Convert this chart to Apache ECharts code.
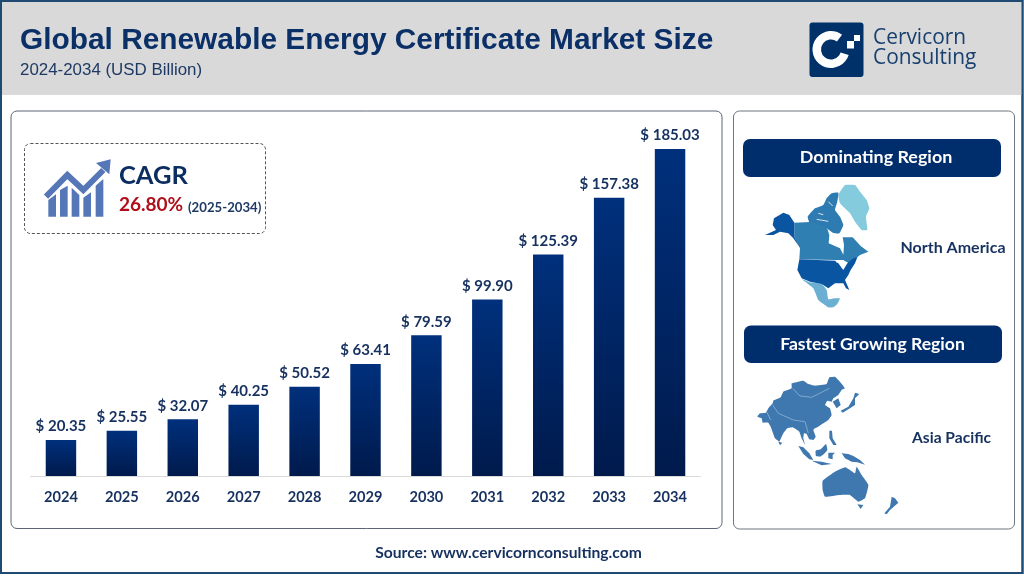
<!DOCTYPE html>
<html><head><meta charset="utf-8">
<style>html,body{margin:0;padding:0;background:#fff}#c{width:1024px;height:576px}</style>
<script src="https://cdn.jsdelivr.net/npm/echarts@6/dist/echarts.min.js"></script>
</head><body><div id="c"></div>
<script>
const categories = ['2024','2025','2026','2027','2028','2029','2030','2031','2032','2033','2034'];
const marketSize = [20.35,25.55,32.07,40.25,50.52,63.41,79.59,99.90,125.39,157.38,185.03];
const titleText = 'Global Renewable Energy Certificate Market Size';
const subtitleText = '2024-2034 (USD Billion)';
const sourceText = 'Source: www.cervicornconsulting.com';

const NAVY='#002d6c', TEXT='#16315f';
const chart = echarts.init(document.getElementById('c'),null,{renderer:'canvas'});
const g = [];
const rect=(x,y,w,h,style,r,z)=>g.push({type:'rect',shape:{x,y,width:w,height:h,r:r||0},style,z:z||0,silent:true});
const txt=(text,x,y,font,fill,align)=>g.push({type:'text',z:5,silent:true,style:{text,x,y,font,fill,align:align||'left',textAlign:align||'left',verticalAlign:'middle',textVerticalAlign:'middle'}});
// traced illustration outlines: coordinates are in a 3x trace space with an origin
const poly=(ox,oy,pts,fill,z,smooth)=>g.push({type:'polygon',z:z||1,silent:true,shape:{smooth:smooth||0,points:pts.map(p=>[ox+p[0]/3,oy+p[1]/3])},style:{fill}});
const line=(ox,oy,pts,stroke,w,z)=>g.push({type:'polyline',z:z||2,silent:true,shape:{points:pts.map(p=>[ox+p[0]/3,oy+p[1]/3])},style:{stroke,lineWidth:w,fill:null}});

// page frame + header
rect(1,1,1021.5,572,{fill:'#fff',stroke:'#1f4a72',lineWidth:2});
rect(2,2,1020,93,{fill:'#d9d9d9'});
rect(1,1,1021.5,572,{fill:null,stroke:'#1f4a72',lineWidth:2},0,1);
txt(titleText,20,41,'bold 29.85px "Liberation Sans"','#0b3068');
txt(subtitleText,20,70,'16.9px "Liberation Sans"','#1e3a64');

// logo
rect(809.5,22.5,54,54.5,{fill:'#003169'},3,1);
g.push({type:'sector',z:2,silent:true,shape:{cx:831,cy:49.5,r:18.5,r0:10,startAngle:0.3,endAngle:5.35,clockwise:true},style:{fill:'#fff'}});
rect(847,41,7,7.5,{fill:'#fff'},0,2); rect(854,35,6,6,{fill:'#fff'},0,2);
txt('Cervicorn',873,38,'500 20.9px "Open Sans"','#17406f');
txt('Consulting',873,58,'500 20.9px "Open Sans"','#17406f');

// panels
rect(11,111,711,417.5,{fill:'#fff',stroke:'#5a6675',lineWidth:1},6);
rect(733.5,111,281,418,{fill:'#fff',stroke:'#6f7780',lineWidth:1},6);

// CAGR box
rect(24.5,143.5,241,90,{fill:'#fff',stroke:'#555',lineWidth:1,lineDash:[3,2]},6,1);
[[[25,135],[48,118],[48,185],[25,185]],[[60,105],[83,92],[83,185],[60,185]],[[95,98],[118,120],[118,185],[95,185]],[[130,128],[153,112],[153,185],[130,185]],[[167,92],[190,72],[190,185],[167,185]]].forEach(b=>poly(40,155,b,'#5577b8',2));
line(40,155,[[18,125],[82,60],[130,105],[190,45]],'#5577b8',6,2);
poly(40,155,[[168,24],[212,13],[208,58]],'#5577b8',2);
txt('CAGR',119,176,'bold 25.5px Lato','#0b2d62');
txt('26.80%',119,205,'bold 19px Lato','#b0101a');
txt('(2025-2034)',188,208,'bold 13.2px Lato','#1e3a64');

// region buttons
rect(743,139,258,38,{fill:NAVY},7,1);
txt('Dominating Region',876,157.5,'bold 17.9px Lato','#fff','center');
rect(744,325.5,258,37.5,{fill:NAVY},7,1);
txt('Fastest Growing Region',872.5,344,'bold 17.6px Lato','#fff','center');
txt('North America',953,247.5,'bold 16px Lato',TEXT,'center');
txt('Asia Pacific',951.5,438,'bold 15.6px Lato',TEXT,'center');
txt(sourceText,508.5,552.5,'bold 15.65px Lato',TEXT,'center');

// North America illustration
const NX=760,NY=180,S=0.12;
poly(NX,NY,[[255,15],[285,15],[300,35],[320,60],[328,85],[318,110],[322,150],[305,150],[285,125],[270,100],[240,70],[235,45]],'#85cbde',1,S);
poly(NX,NY,[[215,40],[235,38],[232,65],[225,90],[240,110],[250,135],[238,160],[218,158],[200,145],[150,130],[143,110],[165,85],[190,75],[200,55]],'#2d7bb0',1,S);
poly(NX,NY,[[103,128],[150,126],[200,140],[208,165],[206,190],[240,205],[250,224],[252,195],[248,172],[278,172],[302,198],[325,215],[300,225],[282,240],[265,250],[250,240],[225,240],[118,238],[120,205],[103,170]],'#2f7fb3',1);
poly(NX,NY,[[42,115],[70,98],[88,105],[103,128],[103,170],[120,203],[100,175],[85,160],[60,155],[40,165],[15,165],[48,150],[38,135]],'#0a55a2',2);
poly(NX,NY,[[118,238],[225,242],[235,250],[250,270],[262,250],[280,235],[292,232],[285,250],[272,270],[265,285],[255,300],[268,330],[258,325],[250,310],[225,310],[205,325],[185,312],[150,305],[125,295],[112,270]],'#0a55a2',2);
poly(NX,NY,[[125,297],[150,307],[185,312],[200,330],[205,358],[225,355],[240,355],[232,372],[220,382],[205,382],[175,360],[160,325]],'#6bb0d3',1,S);
line(NX,NY,[[175,100],[190,104]],'#fff',0.8,3);
line(NX,NY,[[170,118],[205,124]],'#fff',0.8,3);
line(NX,NY,[[205,65],[218,78]],'#fff',0.8,3);
line(NX,NY,[[228,245],[262,248]],'#fff',1.2,3);
line(NX,NY,[[240,250],[248,265]],'#fff',1.2,3);

// Asia Pacific illustration
const AX=750,AY=370,AP='#3f78ae';
poly(AX,AY,[[22,140],[30,130],[48,128],[55,115],[68,100],[70,92],[92,82],[100,65],[125,55],[125,40],[160,32],[175,42],[195,47],[230,42],[238,22],[255,20],[270,35],[285,55],[275,60],[265,75],[250,85],[245,95],[232,92],[225,105],[240,115],[245,135],[235,150],[220,160],[205,170],[195,175],[190,180],[197,200],[190,210],[178,208],[170,192],[162,190],[160,205],[165,225],[155,205],[148,185],[128,172],[112,175],[100,190],[88,215],[75,205],[62,170],[55,158],[38,158],[35,145]],AP,1,0.08);
poly(AX,AY,[[248,95],[265,85],[272,105],[260,115]],AP);
poly(AX,AY,[[272,122],[295,110],[310,85],[315,68],[328,72],[315,85],[315,105],[295,118],[278,128]],AP);
poly(AX,AY,[[145,228],[160,232],[178,250],[190,270],[178,268],[160,252]],AP);
poly(AX,AY,[[185,272],[215,275],[245,282],[215,286]],AP);
poly(AX,AY,[[197,242],[212,238],[228,222],[232,240],[222,252],[210,260],[198,258]],AP,1,S);
poly(AX,AY,[[235,248],[255,248],[248,255],[248,268],[235,265]],AP);
poly(AX,AY,[[275,250],[295,252],[310,258],[330,270],[345,284],[322,277],[305,275],[285,265]],AP);
poly(AX,AY,[[238,182],[246,182],[248,205],[260,225],[250,225],[238,205]],AP);
poly(AX,AY,[[218,332],[255,305],[285,292],[300,300],[315,310],[320,290],[335,315],[355,345],[345,385],[325,395],[300,375],[270,375],[225,380],[218,360]],AP,1,S);
poly(AX,AY,[[322,403],[340,405],[332,417]],AP);
poly(AX,AY,[[403,430],[420,410],[425,380],[435,385],[445,398],[420,420],[410,433]],AP);
poly(AX,AY,[[85,215],[97,218],[90,226]],AP);
const B='#8fb4d6';
line(AX,AY,[[128,55],[150,78],[185,82],[238,55]],B,0.8);
line(AX,AY,[[68,105],[85,130],[130,150],[165,155]],B,0.8);
line(AX,AY,[[50,125],[62,150]],B,0.8);
line(AX,AY,[[165,155],[175,190]],B,0.8);

chart.setOption({
  animation:false,
  backgroundColor:'#fff',
  graphic:{elements:g},
  grid:{left:30.5,right:323.5,top:149,bottom:100,containLabel:false},
  xAxis:{type:'category',data:categories,
    axisLine:{lineStyle:{color:'#d9d9d9',width:1}},axisTick:{show:false},
    axisLabel:{margin:14,color:TEXT,fontFamily:'Lato',fontWeight:'bold',fontSize:14.6}},
  yAxis:{type:'value',show:false,min:0,max:185.03,splitLine:{show:false}},
  series:[{type:'bar',data:marketSize,barWidth:'50%',z:3,
    itemStyle:{color:new echarts.graphic.LinearGradient(0,0,0,1,[{offset:0,color:'#00307c'},{offset:1,color:'#001a4c'}])},
    label:{show:true,position:'top',distance:6,color:TEXT,fontFamily:'Lato',fontWeight:'bold',fontSize:15,
      formatter:p=>'$ '+p.value.toFixed(2)}}]
});
</script></body></html>
